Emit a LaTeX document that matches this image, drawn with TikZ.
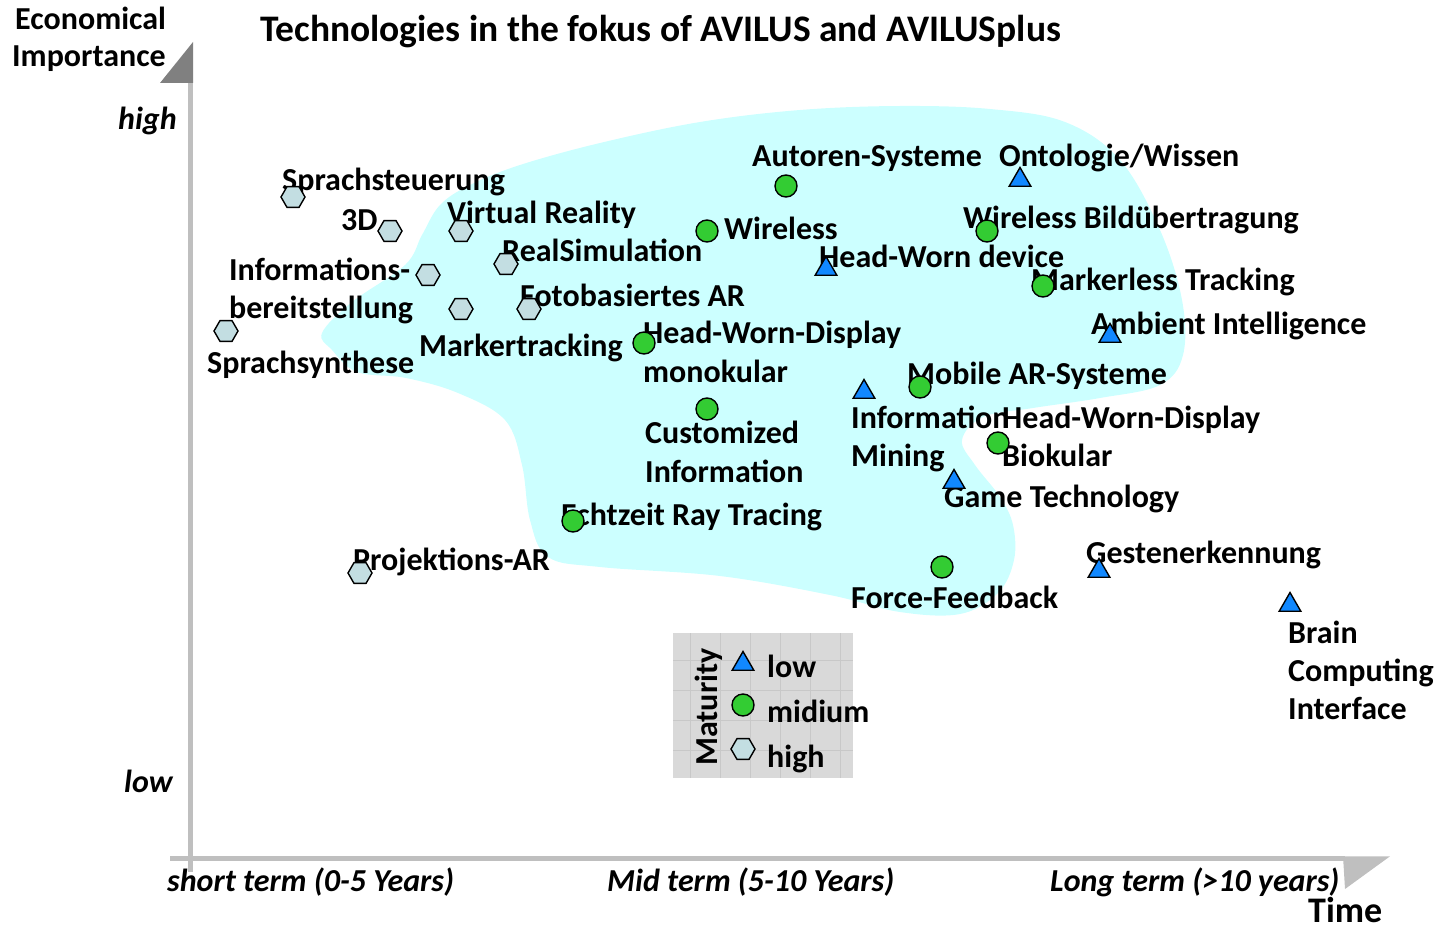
\documentclass[tikz,border=0pt]{standalone}
\usepackage{fontspec}
\setmainfont{Carlito}
\usetikzlibrary{shapes.geometric}
\definecolor{blobc}{RGB}{204,255,255}
\definecolor{hexc}{RGB}{195,222,226}
\definecolor{grn}{RGB}{51,204,51}
\definecolor{blu}{RGB}{17,136,255}
\definecolor{axl}{RGB}{191,191,191}
\definecolor{axd}{RGB}{128,128,128}
\definecolor{legc}{RGB}{217,217,217}
\definecolor{legg}{RGB}{200,200,200}
\tikzset{
 lbl/.style={font=\fontsize{32}{39}\selectfont\bfseries, anchor=base west, inner sep=0pt},
 ital/.style={font=\fontsize{32}{39}\selectfont\bfseries\itshape, anchor=base west, inner sep=0pt},
 hexm/.style={regular polygon, regular polygon sides=6, minimum size=24pt, inner sep=0pt, draw=black, line width=1.4pt, fill=hexc},
 circm/.style={circle, minimum size=22pt, inner sep=0pt, draw=black, line width=1.4pt, fill=grn},
 trim/.style={regular polygon, regular polygon sides=3, minimum size=25pt, inner sep=0pt, draw=black, line width=1.4pt, fill=blu},
}
\begin{document}
\begin{tikzpicture}[x=1pt,y=-1pt]
\useasboundingbox (0,0) rectangle (1439,928);
% blob
\fill[blobc] plot[smooth cycle, tension=0.6] coordinates {
(322,333) (352,302) (405,265) (422,235) (440,205) (470,185) (520,165) (600,143) (700,122) (800,110) (900,106)
(990,109) (1065,122) (1120,160) (1160,230) (1182,300) (1183,355) (1160,385) (1100,398) (1033,408) (983,417)
(962,440) (975,465) (1000,497) (1013,525) (1014,560) (998,593) (960,614) (900,612) (830,595) (720,576)
(600,567) (548,557) (530,520) (522,465) (505,420) (458,393) (406,378) (357,372) (332,350)};
% axes
\draw[axl, line width=4.5pt] (190.5,83) -- (190.5,872);
\fill[axd] (160,83) -- (193,83) -- (193,42) -- cycle;
\draw[axl, line width=4.5pt] (170,858.5) -- (1345,858.5);
\fill[axl] (1343,856.3) -- (1390,856.3) -- (1345,889) -- cycle;
% axis labels
\node[lbl] (ec1) at (15,30) {Economical};
\node[lbl] (ec2) at (12,67) {Importance};
\node[ital] (hi) at (118,130) {high};
\node[ital] (lo) at (124,792) {low};
\node[ital] (st) at (167,891) {short term (0-5 Years)};
\node[ital] (mt) at (607,891) {Mid term (5-10 Years)};
\node[ital] (ltm) at (1050,891) {Long term (>10 years)};
\node[lbl, font=\fontsize{36}{40}\selectfont\bfseries] (time) at (1308,922) {Time};
\node[lbl, font=\fontsize{37.5}{44}\selectfont\bfseries] (title) at (260,42) {Technologies in the fokus of AVILUS and AVILUSplus};
% legend
\fill[legc] (673,633) rectangle (853,778);
\begin{scope}
\clip (673,633) rectangle (853,778);
\draw[legg, line width=0.6pt] (673,633) grid[step=30pt] (853,778);
\end{scope}
\node[lbl, anchor=center, rotate=90] (mat) at (709,707) {Maturity};
\node[lbl] (lglow) at (767,677) {low};
\node[lbl] (lgmid) at (767,722) {midium};
\node[lbl] (lghigh) at (767,767) {high};
\node[trim] (lt) at (743,664) {};
\node[circm] (lc) at (743,705) {};
\node[hexm] (lh) at (743,749) {};
% labels
\node[lbl] (lh1) at (282,190) {Sprachsteuerung};
\node[lbl] (lh2) at (341,230) {3D};
\node[lbl] (lh3) at (447,223) {Virtual Reality};
\node[lbl] (lh4) at (502,261) {RealSimulation};
\node[lbl] (lh5a) at (229,280) {Informations-};
\node[lbl] (lh5b) at (229,318) {bereitstellung};
\node[lbl] (lh6) at (419,356) {Markertracking};
\node[lbl] (lh7) at (520,306) {Fotobasiertes AR};
\node[lbl] (lh8) at (207,373) {Sprachsynthese};
\node[lbl] (lh9) at (353,570) {Projektions-AR};
\node[lbl] (lc1) at (752,167) {Autoren-Systeme};
\node[lbl] (lc2) at (724,239) {Wireless};
\node[lbl] (lc3a) at (643,343) {Head-Worn-Display};
\node[lbl] (lc3b) at (643,382) {monokular};
\node[lbl] (lc4a) at (645,443) {Customized};
\node[lbl] (lc4b) at (645,482) {Information};
\node[lbl] (lc5) at (561,525) {Echtzeit Ray Tracing};
\node[lbl] (lc6) at (963,228) {Wireless Bildübertragung};
\node[lbl] (lc7) at (1031,290) {Markerless Tracking};
\node[lbl] (lc8) at (907,384) {Mobile AR-Systeme};
\node[lbl] (lc9a) at (1002,428) {Head-Worn-Display};
\node[lbl] (lc9b) at (1002,466) {Biokular};
\node[lbl] (lc10) at (851,608) {Force-Feedback};
\node[lbl] (lt1) at (999,167) {Ontologie/Wissen};
\node[lbl] (lt2) at (819,267) {Head-Worn device};
\node[lbl] (lt3) at (1091,334) {Ambient Intelligence};
\node[lbl] (lt4a) at (851,428) {Information};
\node[lbl] (lt4b) at (851,466) {Mining};
\node[lbl] (lt5) at (944,507) {Game Technology};
\node[lbl] (lt6) at (1086,563) {Gestenerkennung};
\node[lbl] (lt7a) at (1288,643) {Brain};
\node[lbl] (lt7b) at (1288,681) {Computing};
\node[lbl] (lt7c) at (1288,719) {Interface};
% markers
\node[hexm] (h1) at (293,197) {};
\node[hexm] (h2) at (390,231) {};
\node[hexm] (h3) at (461,231) {};
\node[hexm] (h4) at (506,264) {};
\node[hexm] (h5) at (428,275) {};
\node[hexm] (h6) at (461,309) {};
\node[hexm] (h7) at (529,309) {};
\node[hexm] (h8) at (226,331) {};
\node[hexm] (h9) at (360,573) {};
\node[circm] (c1) at (786,186) {};
\node[circm] (c2) at (707,231) {};
\node[circm] (c3) at (644,343) {};
\node[circm] (c4) at (707,409) {};
\node[circm] (c5) at (573,521) {};
\node[circm] (c6) at (987,231) {};
\node[circm] (c7) at (1043,286) {};
\node[circm] (c8) at (920,387) {};
\node[circm] (c9) at (998,443) {};
\node[circm] (c10) at (942,567) {};
\node[trim] (t1) at (1020,180) {};
\node[trim] (t2) at (826,269) {};
\node[trim] (t3) at (1110,336) {};
\node[trim] (t4) at (864,392) {};
\node[trim] (t5) at (954,482) {};
\node[trim] (t6) at (1099,571) {};
\node[trim] (t7) at (1290,605) {};
\end{tikzpicture}
\end{document}
